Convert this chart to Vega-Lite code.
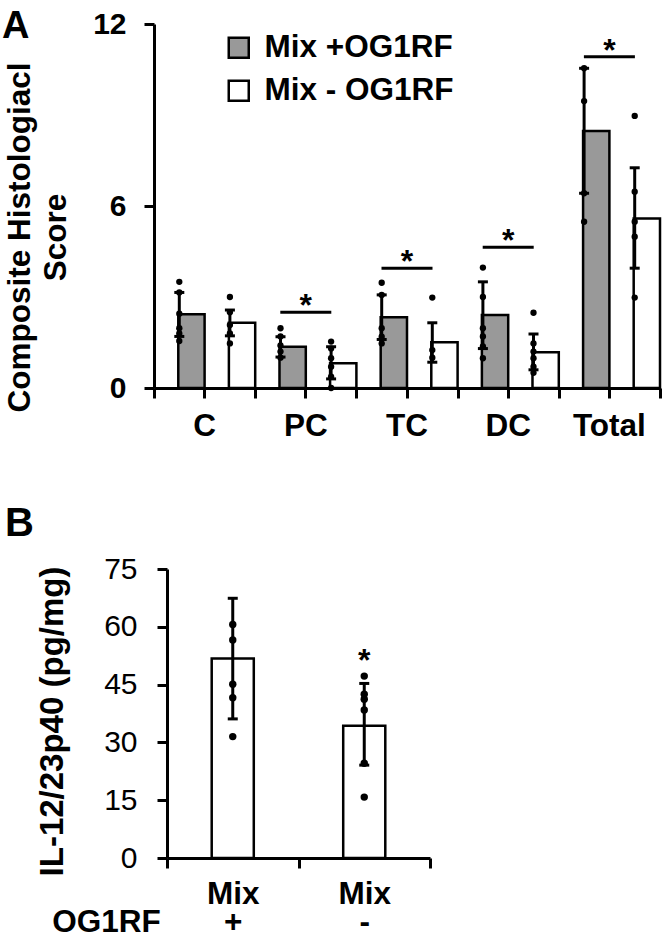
{
  "$schema": "https://vega.github.io/schema/vega-lite/v6.json",
  "background": "white",
  "padding": {"left": 2, "top": 8, "right": 0, "bottom": 0},
  "config": {
    "font": "Liberation Sans",
    "view": {"stroke": null},
    "axis": {"domainColor": "black", "tickColor": "black", "labelColor": "black", "titleColor": "black", "domainWidth": 3, "tickWidth": 3, "tickSize": 10, "grid": false, "labelFont": "Liberation Sans", "titleFont": "Liberation Sans", "titleLimit": 1000, "labelLimit": 400},
    "legend": {"labelFont": "Liberation Sans"},
    "title": {"font": "Liberation Sans", "color": "black"}
  },
  "bounds": "flush",
  "spacing": 181,
  "datasets": {
    "sumA": [
      {"region": "C", "group": "Mix +OG1RF", "mean": 2.43, "lo": 1.7, "hi": 3.15},
      {"region": "C", "group": "Mix - OG1RF", "mean": 2.15, "lo": 1.72, "hi": 2.57},
      {"region": "PC", "group": "Mix +OG1RF", "mean": 1.36, "lo": 1.02, "hi": 1.69},
      {"region": "PC", "group": "Mix - OG1RF", "mean": 0.82, "lo": 0.3, "hi": 1.36},
      {"region": "TC", "group": "Mix +OG1RF", "mean": 2.33, "lo": 1.6, "hi": 3.07},
      {"region": "TC", "group": "Mix - OG1RF", "mean": 1.51, "lo": 0.85, "hi": 2.15},
      {"region": "DC", "group": "Mix +OG1RF", "mean": 2.41, "lo": 1.3, "hi": 3.5},
      {"region": "DC", "group": "Mix - OG1RF", "mean": 1.18, "lo": 0.6, "hi": 1.78},
      {"region": "Total", "group": "Mix +OG1RF", "mean": 8.47, "lo": 6.42, "hi": 10.54},
      {"region": "Total", "group": "Mix - OG1RF", "mean": 5.59, "lo": 3.95, "hi": 7.26}
    ],
    "ptsA": [
      {"region": "C", "group": "Mix +OG1RF", "value": 3.5},
      {"region": "C", "group": "Mix +OG1RF", "value": 3.15},
      {"region": "C", "group": "Mix +OG1RF", "value": 2.45},
      {"region": "C", "group": "Mix +OG1RF", "value": 1.97},
      {"region": "C", "group": "Mix +OG1RF", "value": 1.8},
      {"region": "C", "group": "Mix +OG1RF", "value": 1.55},
      {"region": "C", "group": "Mix - OG1RF", "value": 3.0},
      {"region": "C", "group": "Mix - OG1RF", "value": 2.5},
      {"region": "C", "group": "Mix - OG1RF", "value": 2.08},
      {"region": "C", "group": "Mix - OG1RF", "value": 1.8},
      {"region": "C", "group": "Mix - OG1RF", "value": 1.47},
      {"region": "PC", "group": "Mix +OG1RF", "value": 1.97},
      {"region": "PC", "group": "Mix +OG1RF", "value": 1.7},
      {"region": "PC", "group": "Mix +OG1RF", "value": 1.4},
      {"region": "PC", "group": "Mix +OG1RF", "value": 1.2},
      {"region": "PC", "group": "Mix +OG1RF", "value": 1.0},
      {"region": "PC", "group": "Mix - OG1RF", "value": 1.53},
      {"region": "PC", "group": "Mix - OG1RF", "value": 1.3},
      {"region": "PC", "group": "Mix - OG1RF", "value": 0.98},
      {"region": "PC", "group": "Mix - OG1RF", "value": 0.7},
      {"region": "PC", "group": "Mix - OG1RF", "value": 0.37},
      {"region": "PC", "group": "Mix - OG1RF", "value": 0.0},
      {"region": "TC", "group": "Mix +OG1RF", "value": 3.47},
      {"region": "TC", "group": "Mix +OG1RF", "value": 3.07},
      {"region": "TC", "group": "Mix +OG1RF", "value": 1.97},
      {"region": "TC", "group": "Mix +OG1RF", "value": 1.69},
      {"region": "TC", "group": "Mix +OG1RF", "value": 1.47},
      {"region": "TC", "group": "Mix - OG1RF", "value": 2.98},
      {"region": "TC", "group": "Mix - OG1RF", "value": 1.25},
      {"region": "TC", "group": "Mix - OG1RF", "value": 1.0},
      {"region": "DC", "group": "Mix +OG1RF", "value": 3.97},
      {"region": "DC", "group": "Mix +OG1RF", "value": 3.0},
      {"region": "DC", "group": "Mix +OG1RF", "value": 1.97},
      {"region": "DC", "group": "Mix +OG1RF", "value": 1.7},
      {"region": "DC", "group": "Mix +OG1RF", "value": 1.37},
      {"region": "DC", "group": "Mix +OG1RF", "value": 0.98},
      {"region": "DC", "group": "Mix - OG1RF", "value": 2.48},
      {"region": "DC", "group": "Mix - OG1RF", "value": 1.47},
      {"region": "DC", "group": "Mix - OG1RF", "value": 1.2},
      {"region": "DC", "group": "Mix - OG1RF", "value": 0.98},
      {"region": "DC", "group": "Mix - OG1RF", "value": 0.7},
      {"region": "DC", "group": "Mix - OG1RF", "value": 0.5},
      {"region": "Total", "group": "Mix +OG1RF", "value": 10.54},
      {"region": "Total", "group": "Mix +OG1RF", "value": 9.46},
      {"region": "Total", "group": "Mix +OG1RF", "value": 6.42},
      {"region": "Total", "group": "Mix +OG1RF", "value": 5.48},
      {"region": "Total", "group": "Mix - OG1RF", "value": 8.97},
      {"region": "Total", "group": "Mix - OG1RF", "value": 6.47},
      {"region": "Total", "group": "Mix - OG1RF", "value": 5.48},
      {"region": "Total", "group": "Mix - OG1RF", "value": 4.99},
      {"region": "Total", "group": "Mix - OG1RF", "value": 2.98}
    ],
    "sigA": [
      {"region": "PC", "line": 2.5, "mark": "*"},
      {"region": "TC", "line": 3.95, "mark": "*"},
      {"region": "DC", "line": 4.64, "mark": "*"},
      {"region": "Total", "line": 10.92, "mark": "*"}
    ],
    "sumB": [
      {"cond": "Mix +", "mean": 51.8, "lo": 36.1, "hi": 67.4, "sig": ""},
      {"cond": "Mix -", "mean": 34.3, "lo": 24.1, "hi": 45.3, "sig": "*"}
    ],
    "ptsB": [
      {"cond": "Mix +", "value": 60.6},
      {"cond": "Mix +", "value": 56.6},
      {"cond": "Mix +", "value": 45.1},
      {"cond": "Mix +", "value": 41.6},
      {"cond": "Mix +", "value": 31.5},
      {"cond": "Mix -", "value": 47.2},
      {"cond": "Mix -", "value": 42.5},
      {"cond": "Mix -", "value": 41.2},
      {"cond": "Mix -", "value": 38.4},
      {"cond": "Mix -", "value": 24.6},
      {"cond": "Mix -", "value": 15.8}
    ]
  },
  "vconcat": [
    {
      "title": {"text": "A", "anchor": "start", "frame": "group", "fontSize": 38, "fontWeight": "bold", "dx": -152, "dy": 41},
      "width": 506,
      "height": 364,
      "resolve": {"axis": {"x": "independent"}},
      "layer": [
        {
          "data": {"name": "sumA"},
          "mark": {"type": "bar", "stroke": "black", "strokeWidth": 2.5, "width": {"band": 0.52}},
          "encoding": {
            "x": {"field": "region", "type": "nominal", "sort": ["C", "PC", "TC", "DC", "Total"], "scale": {"paddingInner": 0, "paddingOuter": 0},
                  "axis": {"orient": "bottom", "tickBand": "extent", "labels": false, "title": null}},
            "xOffset": {"field": "group", "type": "nominal", "sort": ["Mix +OG1RF", "Mix - OG1RF"], "scale": {"paddingInner": 0, "paddingOuter": 0}},
            "y": {"field": "mean", "type": "quantitative", "scale": {"domain": [0, 12], "nice": false},
                  "axis": {"values": [0, 6, 12], "labelFontSize": 30, "labelFontWeight": "bold", "labelPadding": 18,
                           "title": ["Composite Histologiacl", "Score"], "titleFontSize": 31.5, "titleFontWeight": "bold", "titleLineHeight": 36, "titlePadding": 20, "titleY": 213}},
            "fill": {"field": "group", "type": "nominal", "sort": ["Mix +OG1RF", "Mix - OG1RF"],
                     "scale": {"domain": ["Mix +OG1RF", "Mix - OG1RF"], "range": ["#999999", "#ffffff"]},
                     "legend": {"orient": "none", "legendX": 69, "legendY": 8, "title": null, "symbolType": "square", "symbolSize": 400, "symbolStrokeColor": "black", "symbolStrokeWidth": 2.5, "labelFontSize": 31.5, "labelFontWeight": "bold", "labelColor": "black", "labelOffset": 10, "labelLimit": 400, "rowPadding": 10}}
          }
        },
        {
          "data": {"name": "sumA"},
          "mark": {"type": "rule", "color": "black", "strokeWidth": 3},
          "encoding": {
            "x": {"field": "region", "type": "nominal", "sort": ["C", "PC", "TC", "DC", "Total"], "axis": null},
            "xOffset": {"field": "group", "type": "nominal", "sort": ["Mix +OG1RF", "Mix - OG1RF"]},
            "y": {"field": "lo", "type": "quantitative"},
            "y2": {"field": "hi"}
          }
        },
        {
          "data": {"name": "sumA"},
          "mark": {"type": "tick", "color": "black", "size": 10, "thickness": 3, "opacity": 1},
          "encoding": {
            "x": {"field": "region", "type": "nominal", "sort": ["C", "PC", "TC", "DC", "Total"], "axis": null},
            "xOffset": {"field": "group", "type": "nominal", "sort": ["Mix +OG1RF", "Mix - OG1RF"]},
            "y": {"field": "hi", "type": "quantitative"}
          }
        },
        {
          "data": {"name": "sumA"},
          "mark": {"type": "tick", "color": "black", "size": 10, "thickness": 3, "opacity": 1},
          "encoding": {
            "x": {"field": "region", "type": "nominal", "sort": ["C", "PC", "TC", "DC", "Total"], "axis": null},
            "xOffset": {"field": "group", "type": "nominal", "sort": ["Mix +OG1RF", "Mix - OG1RF"]},
            "y": {"field": "lo", "type": "quantitative"}
          }
        },
        {
          "data": {"name": "ptsA"},
          "mark": {"type": "circle", "color": "black", "size": 40, "opacity": 1},
          "encoding": {
            "x": {"field": "region", "type": "nominal", "sort": ["C", "PC", "TC", "DC", "Total"], "axis": null},
            "xOffset": {"field": "group", "type": "nominal", "sort": ["Mix +OG1RF", "Mix - OG1RF"]},
            "y": {"field": "value", "type": "quantitative"}
          }
        },
        {
          "data": {"name": "sigA"},
          "mark": {"type": "tick", "color": "black", "size": 51, "thickness": 3, "opacity": 1},
          "encoding": {
            "x": {"field": "region", "type": "nominal", "sort": ["C", "PC", "TC", "DC", "Total"],
                  "axis": {"orient": "bottom", "tickBand": "center", "domain": false, "labelFontSize": 31.5, "labelFontWeight": "bold", "labelPadding": 12, "labelAngle": 0, "title": null}},
            "y": {"field": "line", "type": "quantitative"}
          }
        },
        {
          "data": {"name": "sigA"},
          "mark": {"type": "text", "color": "black", "fontSize": 32, "fontWeight": "bold", "baseline": "alphabetic", "dy": 4},
          "encoding": {
            "x": {"field": "region", "type": "nominal", "sort": ["C", "PC", "TC", "DC", "Total"], "axis": null},
            "y": {"field": "line", "type": "quantitative"},
            "text": {"field": "mark"}
          }
        }
      ]
    },
    {
      "title": {"text": "B", "anchor": "start", "frame": "group", "fontSize": 40, "fontWeight": "bold", "dx": -149, "dy": -6},
      "width": 276,
      "height": 289,
      "layer": [
        {
          "data": {"name": "sumB"},
          "mark": {"type": "bar", "fill": "white", "stroke": "black", "strokeWidth": 2.5, "width": {"band": 0.32}},
          "encoding": {
            "x": {"field": "cond", "type": "nominal", "sort": ["Mix +", "Mix -"], "scale": {"paddingInner": 0, "paddingOuter": 0, "range": [13, 276]},
                  "axis": {"tickBand": "extent", "labelAngle": 0, "labelExpr": "split(datum.label, ' ')", "labelFontSize": 31.5, "labelFontWeight": "bold", "labelLineHeight": 28, "labelPadding": 10,
                           "title": "OG1RF", "titleFontSize": 31.5, "titleFontWeight": "bold", "titleX": -48, "titleY": 64, "titleAlign": "center", "titleBaseline": "middle"}},
            "y": {"field": "mean", "type": "quantitative", "scale": {"domain": [0, 75], "nice": false},
                  "axis": {"offset": -13, "values": [0, 15, 30, 45, 60, 75], "labelFontSize": 30, "labelFontWeight": "normal", "labelPadding": 20,
                           "title": "IL-12/23p40 (pg/mg)", "titleFontSize": 33, "titleFontWeight": "bold", "titlePadding": 34, "titleY": 152}}
          }
        },
        {
          "data": {"name": "sumB"},
          "mark": {"type": "rule", "color": "black", "strokeWidth": 3},
          "encoding": {
            "x": {"field": "cond", "type": "nominal", "sort": ["Mix +", "Mix -"]},
            "y": {"field": "lo", "type": "quantitative"},
            "y2": {"field": "hi"}
          }
        },
        {
          "data": {"name": "sumB"},
          "mark": {"type": "tick", "color": "black", "size": 10, "thickness": 3, "opacity": 1},
          "encoding": {
            "x": {"field": "cond", "type": "nominal", "sort": ["Mix +", "Mix -"]},
            "y": {"field": "hi", "type": "quantitative"}
          }
        },
        {
          "data": {"name": "sumB"},
          "mark": {"type": "tick", "color": "black", "size": 10, "thickness": 3, "opacity": 1},
          "encoding": {
            "x": {"field": "cond", "type": "nominal", "sort": ["Mix +", "Mix -"]},
            "y": {"field": "lo", "type": "quantitative"}
          }
        },
        {
          "data": {"name": "ptsB"},
          "mark": {"type": "circle", "color": "black", "size": 55, "opacity": 1},
          "encoding": {
            "x": {"field": "cond", "type": "nominal", "sort": ["Mix +", "Mix -"]},
            "y": {"field": "value", "type": "quantitative"}
          }
        },
        {
          "data": {"name": "sumB"},
          "mark": {"type": "text", "color": "black", "fontSize": 32, "fontWeight": "bold", "baseline": "alphabetic", "dy": -12},
          "encoding": {
            "x": {"field": "cond", "type": "nominal", "sort": ["Mix +", "Mix -"]},
            "y": {"field": "hi", "type": "quantitative"},
            "text": {"field": "sig"}
          }
        }
      ]
    }
  ]
}
